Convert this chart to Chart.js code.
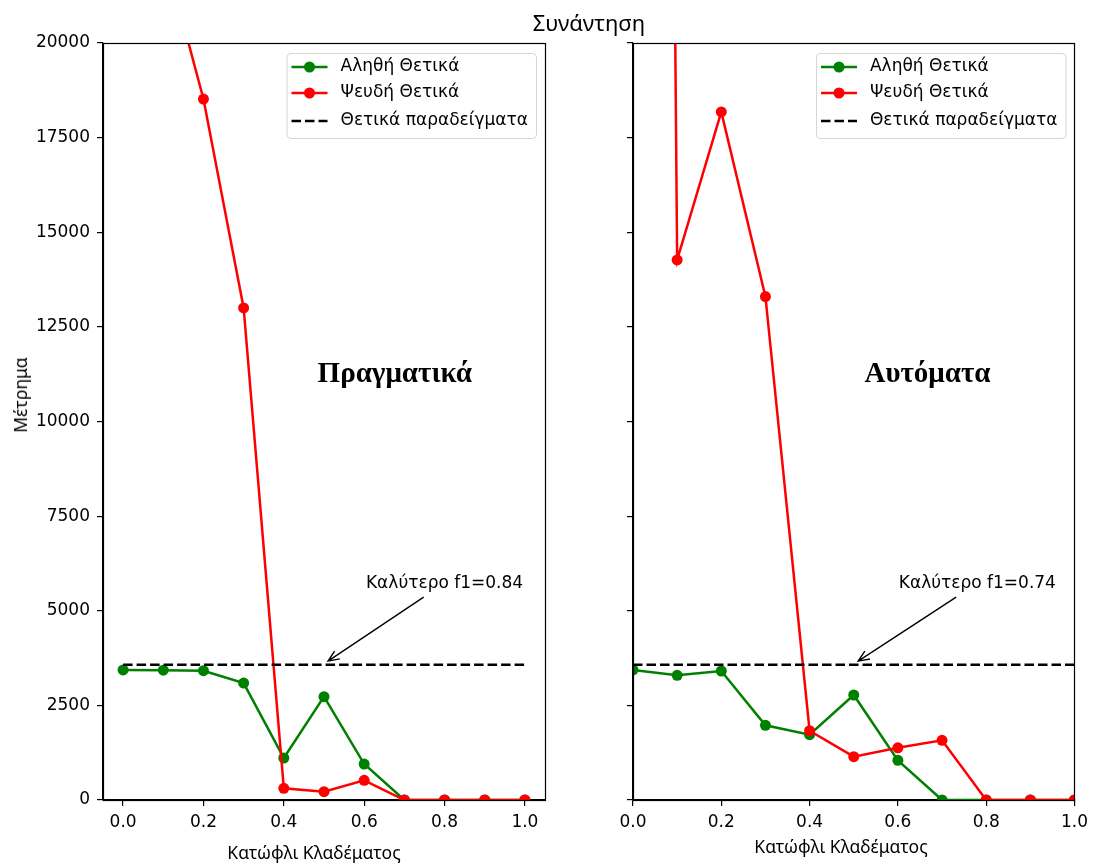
<!DOCTYPE html>
<html>
<head>
<meta charset="utf-8">
<script src="https://cdn.jsdelivr.net/npm/chart.js@4"></script>
<style>
  body { margin: 0; background: #fff; }
  #wrap { position: relative; width: 1094px; height: 863px; overflow: hidden; background: #fff; }
  canvas { position: absolute; top: 0; }
  .lbl { position: absolute; font-family: "Noto Sans", sans-serif; color: #000; white-space: nowrap; }
</style>
</head>
<body>
<div id="wrap">
  <canvas id="realChart" width="560" height="863" style="left:0"></canvas>
  <canvas id="autoChart" width="534" height="863" style="left:560px"></canvas>
  <div class="lbl" style="font-size:22px; left:589px; top:22px; transform:translate(-50%,-50%)">Συνάντηση</div>
  <div class="lbl" style="font-size:17.5px; left:20px; top:395px; transform:translate(-50%,-50%) rotate(-90deg)">Μέτρημα</div>
  <div class="lbl" style="font-size:17.5px; left:314px; top:852px; transform:translate(-50%,-50%)">Κατώφλι Κλαδέματος</div>
  <div class="lbl" style="font-size:17.5px; left:841px; top:846px; transform:translate(-50%,-50%)">Κατώφλι Κλαδέματος</div>
</div>
<script>
// Δεδομένα
const thresholds = [0.0, 0.1, 0.2, 0.3, 0.4, 0.5, 0.6, 0.7, 0.8, 0.9, 1.0];
const realTP = [3435, 3430, 3416, 3090, 1110, 2730, 950, 0, 0, 0, 0];
const realFP = [28000, 22500, 18520, 13000, 310, 220, 520, 0, 0, 0, 0];
const autoTP = [3435, 3294, 3408, 1973, 1725, 2774, 1048, 0, 0, 0, 0];
const autoFP = [150000, 14270, 18180, 13300, 1830, 1145, 1380, 1577, 0, 0, 0];
const positiveCount = 3575;
const seriesNames = ["Αληθή Θετικά", "Ψευδή Θετικά", "Θετικά παραδείγματα"];
const xTicks = [0.0, 0.2, 0.4, 0.6, 0.8, 1.0];
const yTicks = [0, 2500, 5000, 7500, 10000, 12500, 15000, 17500, 20000];
const panelNames = ["Πραγματικά", "Αυτόματα"];
const bestF1 = ["Καλύτερο f1=0.84", "Καλύτερο f1=0.74"];

const tickFont = { family: "DejaVu Sans", size: 17 };

// Πλαίσιο γύρω από την περιοχή του γραφήματος
const framePlugin = {
  id: "frame",
  afterDraw(chart) {
    const a = chart.chartArea, ctx = chart.ctx;
    ctx.save();
    ctx.strokeStyle = "#000";
    ctx.lineWidth = 1.2;
    ctx.strokeRect(Math.round(a.left) + 0.5, Math.round(a.top) + 0.5,
      Math.round(a.right - a.left), Math.round(a.bottom - a.top));
    ctx.restore();
  }
};

// Υπόμνημα μέσα στο γράφημα (πάνω δεξιά)
const boxLegendPlugin = {
  id: "boxLegend",
  afterDraw(chart) {
    const ctx = chart.ctx, a = chart.chartArea;
    const sets = chart.data.datasets;
    ctx.save();
    ctx.font = "17px 'DejaVu Sans'";
    const textW = Math.max(...sets.map(d => ctx.measureText(d.label).width));
    const w = 5 + 36 + 13 + textW + 8, h = 85;
    const x = a.right - 9 - w, y = a.top + 10;
    ctx.beginPath();
    ctx.roundRect(x + 0.5, y + 0.5, w, h, 4);
    ctx.fillStyle = "rgba(255,255,255,0.8)";
    ctx.fill();
    ctx.strokeStyle = "#d6d6d6";
    ctx.lineWidth = 1;
    ctx.stroke();
    const rows = [14, 40, 68];
    sets.forEach((d, i) => {
      const ry = y + rows[i];
      ctx.strokeStyle = d.borderColor;
      ctx.lineWidth = d.borderWidth;
      ctx.setLineDash(d.borderDash || []);
      ctx.beginPath();
      ctx.moveTo(x + 5, ry);
      ctx.lineTo(x + 41, ry);
      ctx.stroke();
      ctx.setLineDash([]);
      if (d.pointRadius > 0) {
        ctx.fillStyle = d.borderColor;
        ctx.beginPath();
        ctx.arc(x + 23, ry, d.pointRadius, 0, Math.PI * 2);
        ctx.fill();
      }
      ctx.fillStyle = "#000";
      ctx.textBaseline = "middle";
      ctx.fillText(d.label, x + 54, ry);
    });
    ctx.restore();
  }
};

// Σχόλια: όνομα πάνελ και βέλος καλύτερου f1
const notesPlugin = {
  id: "notes",
  afterDraw(chart, args, opts) {
    const ctx = chart.ctx, xs = chart.scales.x, ys = chart.scales.y;
    ctx.save();
    ctx.fillStyle = "#000";
    ctx.textAlign = "center";
    ctx.textBaseline = "middle";
    ctx.font = "bold 29px 'Liberation Serif'";
    ctx.fillText(opts.name, xs.getPixelForValue(opts.namePos[0]), ys.getPixelForValue(opts.namePos[1]));
    ctx.font = "17px 'DejaVu Sans'";
    ctx.fillText(opts.text, xs.getPixelForValue(opts.textPos[0]), ys.getPixelForValue(opts.textPos[1]));
    const tx = xs.getPixelForValue(opts.tail[0]), ty = ys.getPixelForValue(opts.tail[1]);
    const hx = xs.getPixelForValue(opts.tip[0]), hy = ys.getPixelForValue(opts.tip[1]);
    ctx.strokeStyle = "#000";
    ctx.lineWidth = 1.4;
    ctx.beginPath();
    ctx.moveTo(tx, ty);
    ctx.lineTo(hx, hy);
    const ang = Math.atan2(hy - ty, hx - tx);
    const len = 12, spread = 0.4;
    ctx.moveTo(hx - len * Math.cos(ang - spread), hy - len * Math.sin(ang - spread));
    ctx.lineTo(hx, hy);
    ctx.lineTo(hx - len * Math.cos(ang + spread), hy - len * Math.sin(ang + spread));
    ctx.stroke();
    ctx.restore();
  }
};

function points(values) {
  return thresholds.map((x, i) => ({ x: x, y: values[i] }));
}

function makeChart(id, tp, fp, cfg) {
  return new Chart(document.getElementById(id), {
    type: "line",
    data: {
      datasets: [
        { label: seriesNames[0], data: points(tp), borderColor: "#008000", backgroundColor: "#008000",
          borderWidth: 2.5, pointRadius: 5.5, pointBorderWidth: 0, order: 2, clip: 0 },
        { label: seriesNames[1], data: points(fp), borderColor: "#ff0000", backgroundColor: "#ff0000",
          borderWidth: 2.5, pointRadius: 5.5, pointBorderWidth: 0, order: 1, clip: 0 },
        { label: seriesNames[2], data: [{ x: 0, y: positiveCount }, { x: 1, y: positiveCount }],
          borderColor: "#000", borderWidth: 2.5, borderDash: [9.5, 4], pointRadius: 0, order: 0, clip: 0 }
      ]
    },
    options: {
      responsive: false,
      animation: false,
      layout: { padding: { top: 43, right: cfg.padRight, left: 0, bottom: 0 } },
      plugins: {
        legend: { display: false },
        tooltip: { enabled: false },
        notes: cfg.notes
      },
      scales: {
        x: {
          type: "linear", min: cfg.xMin, max: cfg.xMax,
          afterBuildTicks: s => { s.ticks = xTicks.map(v => ({ value: v })); },
          afterFit: s => { s.height = 63; },
          ticks: { font: tickFont, color: "#000", padding: 6, maxRotation: 0, autoSkip: false,
                   callback: v => v.toFixed(1) },
          grid: { drawOnChartArea: false, drawTicks: true, tickLength: 6, color: "#000", lineWidth: 1.2 },
          border: { color: "#000", width: 1.2 }
        },
        y: {
          type: "linear", min: 0, max: 20000,
          afterBuildTicks: s => { s.ticks = yTicks.map(v => ({ value: v })); },
          afterFit: s => { s.width = cfg.yWidth; },
          ticks: { display: cfg.showY, font: tickFont, color: "#000", padding: 7,
                   callback: v => String(v) },
          grid: { drawOnChartArea: false, drawTicks: true, tickLength: 6, color: "#000", lineWidth: 1.2 },
          border: { color: "#000", width: 1.2 }
        }
      }
    },
    plugins: [framePlugin, boxLegendPlugin, notesPlugin]
  });
}

makeChart("realChart", realTP, realFP, {
  xMin: -0.05, xMax: 1.05, padRight: 15, yWidth: 103, showY: true,
  notes: { name: panelNames[0], namePos: [0.676, 11230], text: bestF1[0], textPos: [0.8, 5730],
           tail: [0.748, 5360], tip: [0.51, 3670] }
});
makeChart("autoChart", autoTP, autoFP, {
  xMin: 0, xMax: 1, padRight: 19, yWidth: 73, showY: false,
  notes: { name: panelNames[1], namePos: [0.667, 11230], text: bestF1[1], textPos: [0.78, 5730],
           tail: [0.732, 5360], tip: [0.51, 3670] }
});
</script>
</body>
</html>
